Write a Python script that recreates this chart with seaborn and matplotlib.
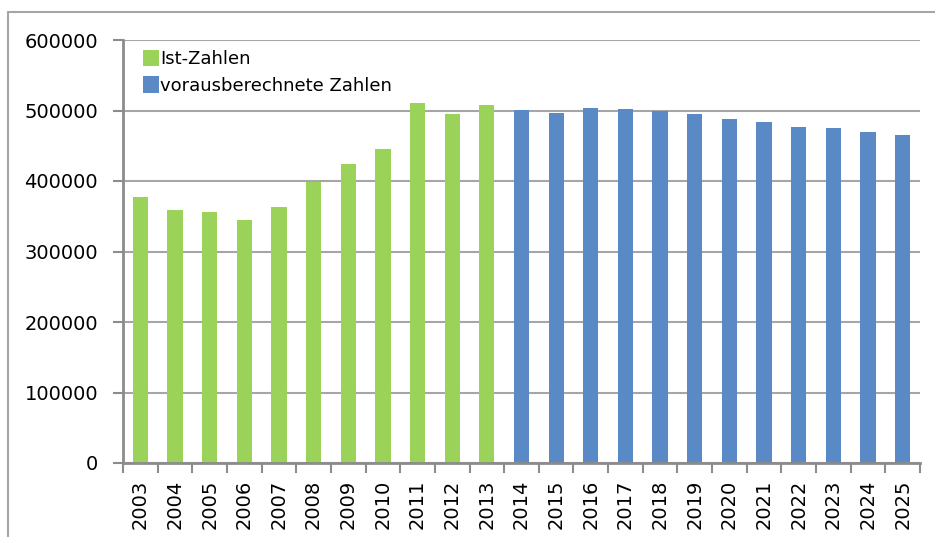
import pandas as pd
import matplotlib.pyplot as plt
import seaborn as sns
from matplotlib.patches import Patch, Rectangle

# values
years = [str(y) for y in range(2003, 2026)]
values = [377000, 359000, 356500, 345000, 362500, 398500, 424000, 446000,
          510000, 495000, 507500,
          501000, 497000, 503500, 501500, 499500, 495000, 487500, 483000,
          476500, 474500, 469000, 465000]
kind = ['Ist-Zahlen'] * 11 + ['vorausberechnete Zahlen'] * 12
colors = {'Ist-Zahlen': '#9BD35A', 'vorausberechnete Zahlen': '#5A8AC6'}

data = pd.DataFrame({'Jahr': years, 'Wert': values, 'Art': kind})

sns.set_style('white')
plt.rcParams['font.family'] = ['DejaVu Sans']
plt.rcParams['text.color'] = 'black'
plt.rcParams['xtick.color'] = 'black'
plt.rcParams['ytick.color'] = 'black'

fig = plt.figure(figsize=(9.35, 5.37), dpi=100)
ax = fig.add_axes([123 / 935, 1 - 463 / 537, 797 / 935, 423 / 537])

sns.barplot(data=data, x='Jahr', y='Wert', hue='Art', palette=colors,
            dodge=False, width=0.44, legend=False, ax=ax, saturation=1,
            linewidth=0, edgecolor='none')

ax.set_xlim(-0.5, len(years) - 0.5)
ax.set_ylim(0, 600000)
ax.set_yticks(range(0, 600001, 100000))
ax.set_yticklabels([str(v) for v in range(0, 600001, 100000)], fontsize=14)
ax.set_xlabel('')
ax.set_ylabel('')

ax.yaxis.grid(True, color='#a6a6a6', linewidth=1.5)
ax.set_axisbelow(True)
for s in ['top', 'right']:
    ax.spines[s].set_visible(False)
for s in ['left', 'bottom']:
    ax.spines[s].set_color('#8c8c8c')
    ax.spines[s].set_linewidth(2)

ax.tick_params(axis='y', left=True, length=7, width=1.5, color='#8c8c8c',
               labelcolor='black', pad=11)
ax.set_xticks(range(len(years)))
ax.set_xticklabels(years, rotation=90, fontsize=14)
ax.tick_params(axis='x', which='major', bottom=False, length=0, pad=12,
               labelcolor='black')
ax.set_xticks([i - 0.5 for i in range(len(years) + 1)], minor=True)
ax.tick_params(axis='x', which='minor', bottom=True, length=7, width=1.5,
               color='#8c8c8c')

handles = [Patch(facecolor=colors[k], edgecolor='none') for k in colors]
ax.legend(handles, list(colors), loc='upper left', frameon=False,
          bbox_to_anchor=(143 / 935, 1 - 50 / 537), bbox_transform=fig.transFigure,
          borderpad=0, borderaxespad=0, fontsize=13, handlelength=0.9,
          handleheight=1.0, handletextpad=0.05, labelspacing=0.45)

# chart area border (cut off at right and bottom)
fig.patches.append(Rectangle((8 / 935, -0.1), 1.1, 1.1 - 12 / 537,
                             transform=fig.transFigure, fill=False,
                             edgecolor='#a6a6a6', linewidth=1.5))

fig.savefig('out.png', dpi=100)
